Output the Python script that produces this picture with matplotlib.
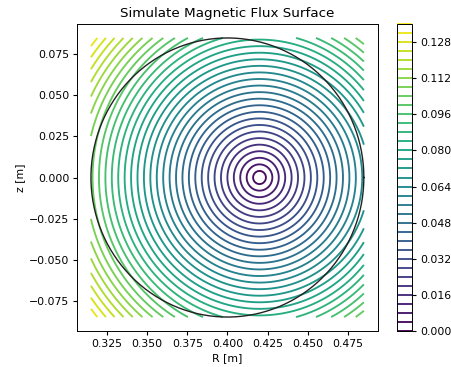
import numpy as np
import matplotlib
matplotlib.use("Agg")
import matplotlib.pyplot as plt

# grid extent of the simulated flux (m)
r_range = [0.315, 0.485]
z_range = [-0.085, 0.085]
n_grid = 200

# magnetic axis position
r_axis = 0.42
z_axis = 0.0

# flux contour levels
psi_min = 0.0
psi_max = 0.136
psi_step = 0.004

# vessel boundary (circle)
vessel_r0 = 0.40
vessel_z0 = 0.0
vessel_radius = 0.085

plt.rcParams["font.size"] = 7.8
plt.rcParams["xtick.major.size"] = 2.9
plt.rcParams["ytick.major.size"] = 2.9
plt.rcParams["xtick.major.pad"] = 2.8
plt.rcParams["ytick.major.pad"] = 2.8
plt.rcParams["axes.linewidth"] = 0.7

def flux_field():
    """
    flux = distance from the magnetic axis on a regular R,z grid
    """
    r = np.linspace(r_range[0], r_range[1], n_grid)
    z = np.linspace(z_range[0], z_range[1], n_grid)
    rr, zz = np.meshgrid(r, z)
    psi = np.sqrt((rr - r_axis) ** 2 + (zz - z_axis) ** 2)
    return rr, zz, psi

def main():
    rr, zz, psi = flux_field()
    levels = np.arange(psi_min, psi_max + psi_step / 2, psi_step)

    W, H = 451, 367
    fig = plt.figure(figsize=(W / 100, H / 100), dpi=100)
    ax = fig.add_axes([77.3 / W, (H - 331) / H, 300.2 / W, 307 / H])
    cax = fig.add_axes([396.8 / W, (H - 331) / H, 15.5 / W, 307 / H])

    cs = ax.contour(rr, zz, psi, levels=levels, cmap="viridis", linewidths=1.35)

    theta = np.linspace(0, 2 * np.pi, 400)
    ax.plot(vessel_r0 + vessel_radius * np.cos(theta),
            vessel_z0 + vessel_radius * np.sin(theta), color="#222222", linewidth=1.0)

    ax.set_xlim(0.3065, 0.4935)
    ax.set_ylim(-0.0935, 0.0935)
    ax.set_xticks([0.325, 0.35, 0.375, 0.4, 0.425, 0.45, 0.475])
    ax.set_yticks([-0.075, -0.05, -0.025, 0.0, 0.025, 0.05, 0.075])
    ax.xaxis.set_major_formatter(matplotlib.ticker.FormatStrFormatter("%.3f"))
    ax.yaxis.set_major_formatter(matplotlib.ticker.FuncFormatter(
        lambda v, p: ("%.3f" % v).replace("-", "\u2212")))
    ax.set_xlabel("R [m]", labelpad=3)
    ax.set_ylabel("z [m]", labelpad=2.5)
    ax.set_title("Simulate Magnetic Flux Surface", fontsize=9.7, pad=5)

    cb = fig.colorbar(cs, cax=cax)
    cb.outline.set_linewidth(0.7)

    fig.savefig("out.png", dpi=100)

if __name__ == "__main__":
    main()
